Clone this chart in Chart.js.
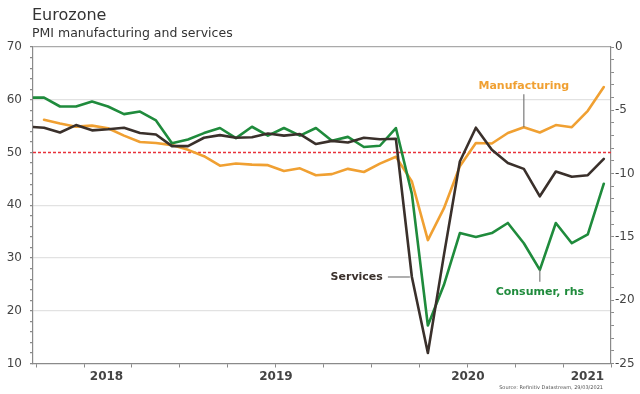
<!DOCTYPE html>
<html><head><meta charset="utf-8">
<script src="https://cdn.jsdelivr.net/npm/chart.js@4.4.0/dist/chart.umd.min.js"></script>
<style>
html,body{margin:0;padding:0;background:#fff;}
#wrap{position:relative;width:640px;height:394px;overflow:hidden;}
#t1{position:absolute;left:32px;top:5px;font:16px "DejaVu Sans";color:#333;white-space:nowrap;}
#t2{position:absolute;left:32px;top:25px;font:12.5px "DejaVu Sans";color:#333;white-space:nowrap;}
canvas{position:absolute;left:0;top:0;}
</style></head><body>
<div id="wrap"><canvas id="c" width="640" height="394"></canvas>
<div id="t1">Eurozone</div><div id="t2">PMI manufacturing and services</div></div>
<script>
const months = ['2018-03','2018-04','2018-05','2018-06','2018-07','2018-08','2018-09','2018-10','2018-11','2018-12',
 '2019-01','2019-02','2019-03','2019-04','2019-05','2019-06','2019-07','2019-08','2019-09','2019-10','2019-11','2019-12',
 '2020-01','2020-02','2020-03','2020-04','2020-05','2020-06','2020-07','2020-08','2020-09','2020-10','2020-11','2020-12',
 '2021-01','2021-02','2021-03'];
const manufacturing = [null,56.2,55.5,54.9,55.1,54.6,53.2,52.0,51.8,51.4,
 50.5,49.3,47.5,47.9,47.7,47.6,46.5,47.0,45.7,45.9,46.9,46.3,
 47.9,49.2,44.5,33.4,39.4,47.4,51.8,51.7,53.7,54.8,53.8,55.2,
 54.8,57.9,62.4];
const services = [54.9,54.7,53.8,55.2,54.2,54.4,54.7,53.7,53.4,51.2,
 51.2,52.8,53.3,52.8,52.9,53.6,53.2,53.5,51.6,52.2,51.9,52.8,
 52.5,52.6,26.4,12.0,30.5,48.3,54.7,50.5,48.0,46.9,41.7,46.4,
 45.4,45.7,48.8];
const consumer = [-4.0,-4.0,-4.7,-4.7,-4.3,-4.7,-5.3,-5.1,-5.8,-7.6,
 -7.3,-6.8,-6.4,-7.2,-6.3,-7.0,-6.4,-7.0,-6.4,-7.4,-7.1,-7.9,
 -7.8,-6.4,-11.6,-22.0,-18.8,-14.7,-15.0,-14.7,-13.9,-15.5,-17.6,-13.9,
 -15.5,-14.8,-10.8];
const leftTicks = [10,20,30,40,50,60,70];
const rightTicks = [-25,-20,-15,-10,-5,0];
const referenceLevel = 50;
const yearLabels = ['2018','2019','2020','2021'];
const annotations = [
  {text:'Manufacturing', series:'manufacturing', month:'2020-10', side:'up'},
  {text:'Services', series:'services', month:'2020-03', side:'left'},
  {text:'Consumer, rhs', series:'consumer', month:'2020-11', side:'down'}
];
const sourceText = 'Source: Refinitiv Datastream, 29/03/2021';

const COL = {manufacturing:'#F0A032', services:'#3A302B', consumer:'#1F8B3C'};
const X_MIN = 0.31, X_MAX = 36.45;
const toPts = arr => arr.map((v,i)=>({x:i,y:v}));

const qTicks = [];
for (let k=0;k<=months.length;k++){
  const m = (parseInt(months[0].slice(5)) - 1 + k) % 12 + 1;
  if ([1,4,7,10].includes(m)) qTicks.push(k-0.5);
}
const yearCenters = yearLabels.map(y=>{
  const idx = months.map((m,i)=>m.startsWith(y)?i:-1).filter(i=>i>=0);
  const a = Math.max(X_MIN, idx[0]-0.5), b = Math.min(X_MAX, idx[idx.length-1]+0.5);
  return (a+b)/2;
});

const extras = {
  id:'extras',
  beforeDatasetsDraw(chart){
    const {ctx, chartArea:ca, scales} = chart;
    const y = scales.y.getPixelForValue(referenceLevel);
    ctx.save();
    ctx.strokeStyle = '#E8303A'; ctx.lineWidth = 1.4; ctx.setLineDash([3,2]);
    ctx.beginPath(); ctx.moveTo(ca.left, y); ctx.lineTo(ca.right, y); ctx.stroke();
    ctx.restore();
  },
  afterDatasetsDraw(chart){
    const {ctx, scales} = chart;
    ctx.save();
    ctx.font = 'bold 11px "DejaVu Sans"';
    ctx.textBaseline = 'middle';
    const series = {manufacturing, services, consumer};
    annotations.forEach(a=>{
      const i = months.indexOf(a.month);
      const yScale = a.series==='consumer' ? scales.y2 : scales.y;
      const px = scales.x.getPixelForValue(i), py = yScale.getPixelForValue(series[a.series][i]);
      ctx.strokeStyle = '#7a7a7a'; ctx.lineWidth = 1.2; ctx.setLineDash([]);
      ctx.fillStyle = COL[a.series];
      ctx.beginPath();
      if (a.side==='up'){
        ctx.moveTo(px, py); ctx.lineTo(px, py-33); ctx.stroke();
        ctx.textAlign='center'; ctx.fillText(a.text, px, py-41);
      } else if (a.side==='left'){
        ctx.moveTo(px-2, py); ctx.lineTo(px-24, py); ctx.stroke();
        ctx.textAlign='right'; ctx.fillText(a.text, px-29, py);
      } else {
        ctx.moveTo(px, py); ctx.lineTo(px, py+12); ctx.stroke();
        ctx.textAlign='center'; ctx.fillText(a.text, px, py+22);
      }
    });
    ctx.restore();
  },
  afterDraw(chart){
    const {ctx, chartArea:ca} = chart;
    ctx.save();
    ctx.font = '5px "DejaVu Sans"'; ctx.fillStyle = '#555';
    ctx.textAlign = 'right'; ctx.textBaseline = 'middle';
    ctx.fillText(sourceText, ca.right - 8, 388);
    ctx.restore();
  }
};

new Chart(document.getElementById('c'), {
  type:'line',
  data:{datasets:[
    {label:'Services', data:toPts(services), borderColor:COL.services, yAxisID:'y', order:1},
    {label:'Consumer, rhs', data:toPts(consumer), borderColor:COL.consumer, yAxisID:'y2', order:2},
    {label:'Manufacturing', data:toPts(manufacturing), borderColor:COL.manufacturing, yAxisID:'y', order:3}
  ]},
  options:{
    responsive:false, animation:false, devicePixelRatio:1,
    layout:{padding:{top:47,left:0,right:0,bottom:0}},
    elements:{point:{radius:0}, line:{borderWidth:2.6, tension:0, borderJoinStyle:'round', borderCapStyle:'round'}},
    plugins:{legend:{display:false}, tooltip:{enabled:false}},
    scales:{
      x:{type:'linear', position:'bottom', min:X_MIN, max:X_MAX,
        afterBuildTicks(s){ s.ticks = qTicks.map(v=>({value:v})); },
        afterFit(s){ s.height = 4; },
        ticks:{display:false, autoSkip:false},
        grid:{drawOnChartArea:false, drawTicks:true, tickLength:4, tickColor:'#8a8a8a'},
        border:{display:true, color:'#8a8a8a', width:1.2}},
      xl:{type:'linear', position:'bottom', min:X_MIN, max:X_MAX,
        afterBuildTicks(s){ s.ticks = yearCenters.map(v=>({value:v})); },
        afterFit(s){ s.height = 26.5; },
        ticks:{autoSkip:false, maxRotation:0, padding:2, color:'#444', font:{family:'DejaVu Sans', size:12, weight:'bold'},
          callback(v){ const k = yearCenters.indexOf(v); return k>=0 ? yearLabels[k] : ''; }},
        grid:{display:false, drawTicks:false}, border:{display:false}},
      y:{type:'linear', position:'left', min:leftTicks[0], max:leftTicks[leftTicks.length-1],
        afterBuildTicks(s){ const t=[]; for(let v=leftTicks[0]; v<=leftTicks[leftTicks.length-1]; v+=2) t.push({value:v}); s.ticks=t; },
        afterFit(s){ s.width = 33; },
        ticks:{autoSkip:false, padding:8, color:'#444', font:{family:'DejaVu Sans', size:12},
          callback(v){ return leftTicks.includes(v) ? String(v) : ''; }},
        grid:{drawTicks:true, tickLength:3, tickColor:'#8a8a8a', lineWidth:1.2,
          color(c){ const v=c.tick && c.tick.value;
            if (v===leftTicks[leftTicks.length-1]) return '#aaaaaa';
            if (leftTicks.includes(v) && v!==referenceLevel && v!==leftTicks[0]) return '#e2e2e2';
            return 'rgba(0,0,0,0)'; }},
        border:{display:true, color:'#8a8a8a', width:1.2}},
      y2:{type:'linear', position:'right', min:rightTicks[0], max:rightTicks[rightTicks.length-1],
        afterBuildTicks(s){ const t=[]; for(let v=rightTicks[0]; v<=rightTicks[rightTicks.length-1]; v+=1) t.push({value:v}); s.ticks=t; },
        afterFit(s){ s.width = 29; },
        ticks:{autoSkip:false, padding:1, color:'#444', font:{family:'DejaVu Sans', size:12},
          callback(v){ return rightTicks.includes(v) ? String(v) : ''; }},
        grid:{drawOnChartArea:false, drawTicks:true, tickLength:3, tickColor:'#8a8a8a'},
        border:{display:true, color:'#8a8a8a', width:1.2}}
    }
  },
  plugins:[extras]
});
</script>
</body></html>
